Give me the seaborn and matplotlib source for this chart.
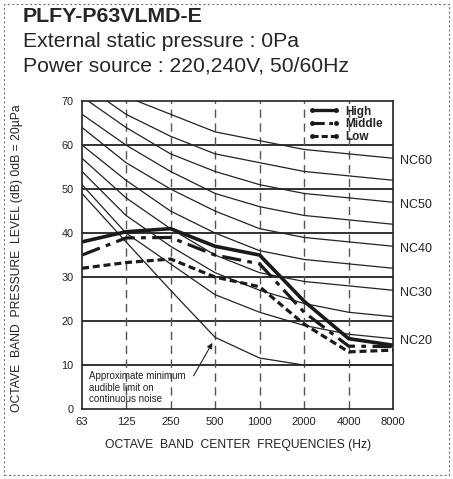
import matplotlib
matplotlib.use('Agg')
import matplotlib.pyplot as plt
import seaborn as sns
import pandas as pd
from matplotlib.lines import Line2D
from matplotlib.patches import Rectangle

freqs = [63, 125, 250, 500, 1000, 2000, 4000, 8000]
freq_labels = ['63', '125', '250', '500', '1000', '2000', '4000', '8000']

# measured sound levels (dB)
high = [38.0, 40.3, 41.0, 37.0, 35.0, 24.5, 16.0, 14.5]
middle = [35.0, 38.9, 39.0, 35.0, 33.0, 22.0, 14.3, 14.2]
low = [32.0, 33.3, 34.1, 30.0, 27.8, 19.3, 13.0, 13.4]

# NC reference curves
nc20 = [51, 40, 33, 26, 22, 19, 17, 16]
nc25 = [54, 44, 37, 31, 27, 24, 22, 21]
nc30 = [57, 48, 41, 35, 31, 29, 28, 27]
nc35 = [60, 52, 45, 40, 36, 34, 33, 32]
nc40 = [64, 56, 50, 45, 41, 39, 38, 37]
nc45 = [67, 60, 54, 49, 46, 44, 43, 42]
nc50 = [71, 64, 58, 54, 51, 49, 48, 47]
nc55 = [74, 67, 62, 58, 56, 54, 53, 52]
nc60 = [77, 71, 67, 63, 61, 59, 58, 57]
nc_curves = [nc20, nc25, nc30, nc35, nc40, nc45, nc50, nc55, nc60]
nc_labels = {'NC20': nc20, 'NC30': nc30, 'NC40': nc40, 'NC50': nc50, 'NC60': nc60}

min_audible = [49, 38, 27, 16.3, 11.6, 10, 10, 10]

sns.set_style('white')
plt.rcParams['font.family'] = ['Liberation Sans', 'DejaVu Sans']

fig = plt.figure(figsize=(4.53, 4.79), dpi=100)
ax = fig.add_axes([0.181, 0.146, 0.687, 0.643])

for curve in nc_curves + [min_audible]:
    sns.lineplot(x=freqs, y=curve, ax=ax, color='#222222', linewidth=0.9)

sns.lineplot(x=freqs, y=high, ax=ax, color='#1a1a1a', linewidth=2.6)
sns.lineplot(x=freqs, y=middle, ax=ax, color='#1a1a1a', linewidth=2.3, dashes=False,
             linestyle=(0, (6, 2, 1.5, 2)))
sns.lineplot(x=freqs, y=low, ax=ax, color='#1a1a1a', linewidth=2.3,
             linestyle=(0, (2.2, 1.2)))

ax.set_xscale('log', base=2)
ax.set_xlim(63, 8000)
ax.set_ylim(0, 70)
ax.set_xticks(freqs)
ax.set_xticklabels(freq_labels)
ax.minorticks_off()
ax.set_yticks(range(0, 80, 10))
ax.tick_params(axis='both', length=0, labelsize=8, colors='#222222')
ax.tick_params(axis='x', pad=6)
ax.tick_params(axis='y', pad=6, labelsize=7.8)

for y in range(10, 70, 10):
    ax.axhline(y, color='#222222', linewidth=1.3, zorder=1)
for f in freqs[1:-1]:
    ax.axvline(f, color='#555555', linewidth=1.0, linestyle=(0, (6, 4)), zorder=1)
for s in ax.spines.values():
    s.set_color('#222222')
    s.set_linewidth(1.2)

for name, curve in nc_labels.items():
    ax.text(8000 * 1.12, curve[-1] - 0.6, name, fontsize=9, va='center', ha='left',
            color='#222222', clip_on=False)

ax.set_xlabel('OCTAVE  BAND  CENTER  FREQUENCIES (Hz)', fontsize=8.7, labelpad=8, color='#222222')
ax.set_ylabel('OCTAVE  BAND  PRESSURE  LEVEL (dB) 0dB = 20µPa', fontsize=8.7, color='#222222')
ax.yaxis.set_label_coords(-0.19, 0.49)

ax.text(70, 8.6, 'Approximate minimum\naudible limit on\ncontinuous noise', fontsize=7,
        va='top', ha='left', linespacing=1.2, color='#222222')
ax.annotate('', xy=(490, 15.6), xytext=(350, 7.0),
            arrowprops=dict(arrowstyle='-|>', color='#222222', lw=0.8, mutation_scale=8))

handles = [
    Line2D([], [], color='#1a1a1a', lw=2.4, marker='o', markersize=2.5),
    Line2D([], [], color='#1a1a1a', lw=2.2, linestyle=(0, (4, 1.5, 1.2, 1.5)), marker='o', markersize=2.5),
    Line2D([], [], color='#1a1a1a', lw=2.2, linestyle=(0, (2, 1)), marker='o', markersize=2.5),
]
leg = ax.legend(handles, ['High', 'Middle', 'Low'], loc='upper right', bbox_to_anchor=(1.0, 1.02),
                frameon=False, numpoints=2, handlelength=2.6, handletextpad=0.5,
                labelspacing=0.08, prop={'weight': 'bold', 'size': 8.5})

fig.text(23 / 453, 1 - 21.7 / 479, 'PLFY-P63VLMD-E', fontsize=15.4, fontweight='bold',
         va='baseline', ha='left')
fig.text(23 / 453, 1 - 46.7 / 479, 'External static pressure : 0Pa', fontsize=15.2,
         va='baseline', ha='left')
fig.text(23 / 453, 1 - 72 / 479, 'Power source : 220,240V, 50/60Hz', fontsize=15.2,
         va='baseline', ha='left')

fig.patches.append(Rectangle((4 / 453, 4 / 479), 445 / 453, 471 / 479, transform=fig.transFigure,
                             fill=False, edgecolor='#777777', linewidth=0.8, linestyle=(0, (2, 2))))

fig.savefig('out.png', dpi=100)
